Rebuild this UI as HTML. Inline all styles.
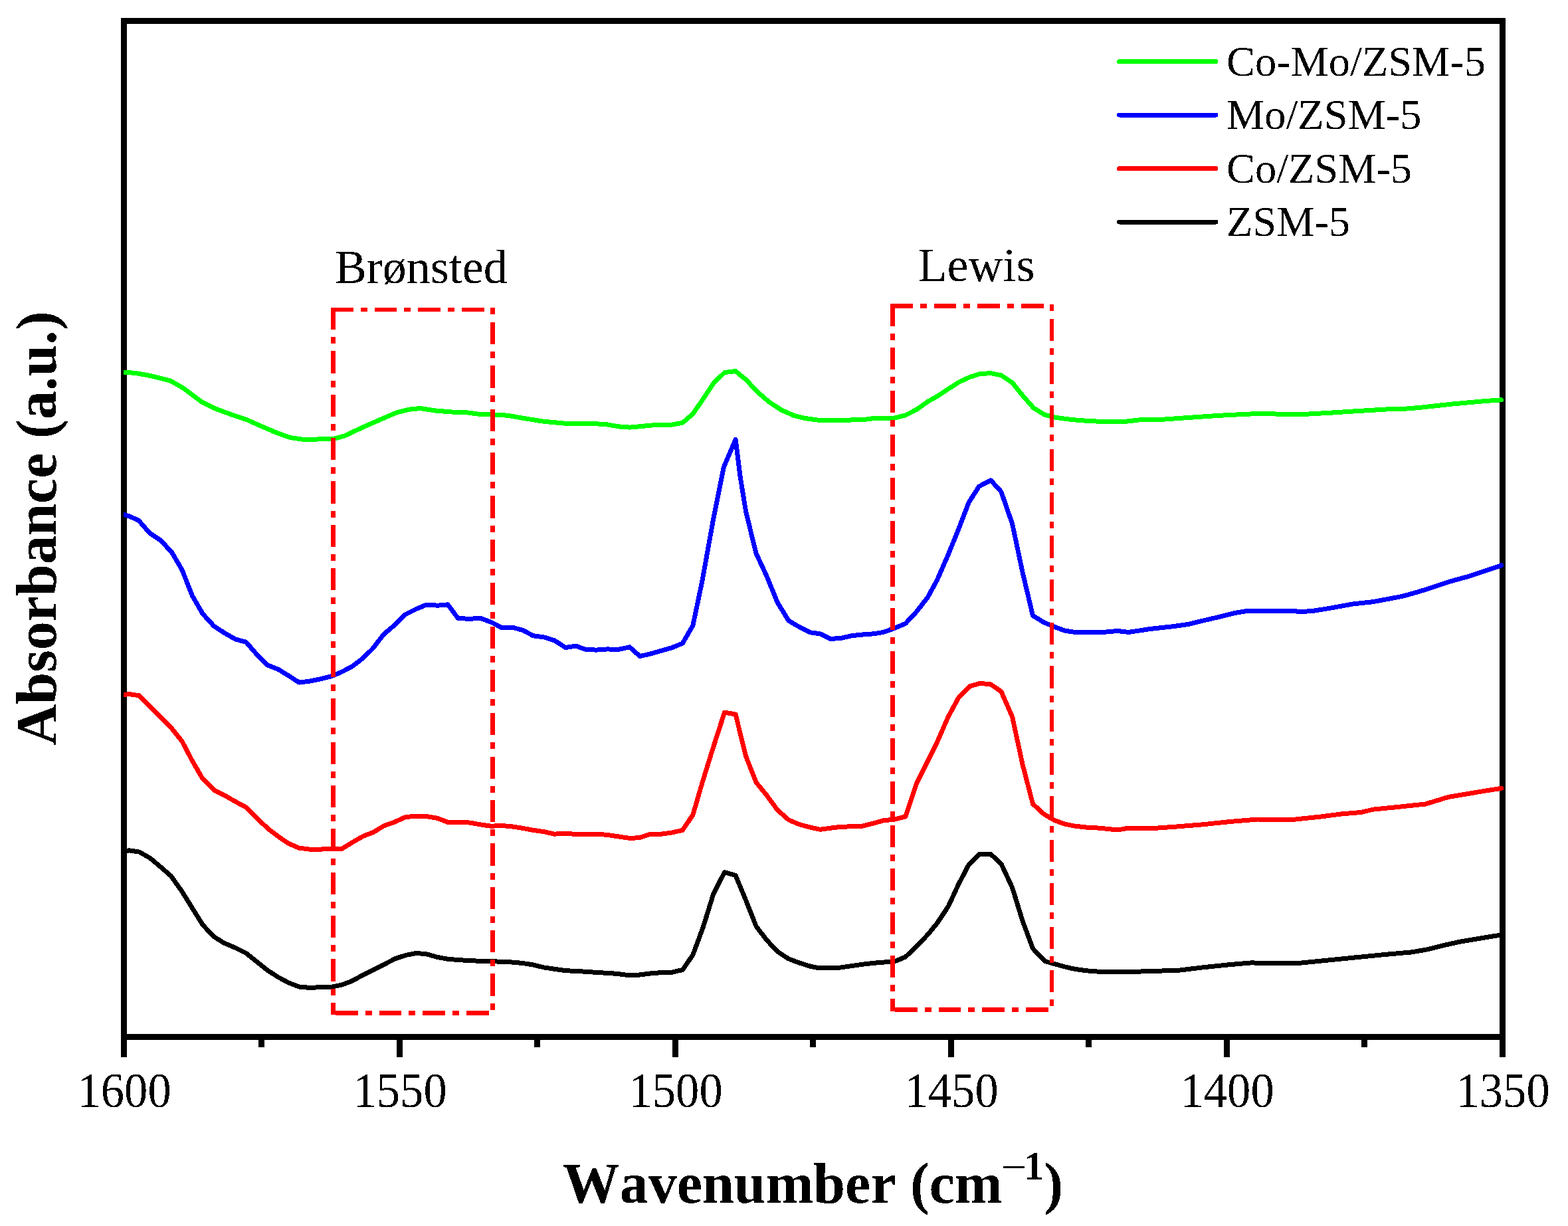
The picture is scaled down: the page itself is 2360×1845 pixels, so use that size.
<!DOCTYPE html>
<html lang="en">
<head>
<meta charset="utf-8">
<title>Py-IR spectra of ZSM-5 catalysts</title>
<style>
html,body{margin:0;padding:0;background:#fff;}
body{width:2360px;height:1845px;overflow:hidden;}
svg{display:block;}
text{font-family:"Liberation Serif",serif;fill:#000;font-kerning:none;filter:url(#bin);}
.b{font-weight:bold;}
.r{font-weight:normal;}
.curve{fill:none;stroke-width:7;stroke-linejoin:round;stroke-linecap:round;}
.frame rect{fill:#000;}
.box line{stroke:#f00;fill:none;}
</style>
</head>
<body>
<svg width="2360" height="1845" viewBox="0 0 2360 1845">
<defs><filter id="bin" x="-5%" y="-20%" width="110%" height="140%" color-interpolation-filters="sRGB"><feComponentTransfer><feFuncA type="discrete" tableValues="0 1"/></feComponentTransfer></filter><clipPath id="cp"><rect x="186" y="36" width="2080" height="1520"/></clipPath></defs>
<rect x="0" y="0" width="2360" height="1845" fill="#fff"/>
<g class="frame" shape-rendering="crispEdges">
<rect x="182" y="27" width="2084" height="9"/>
<rect x="182" y="1556" width="2084" height="9"/>
<rect x="182" y="27" width="9" height="1564"/>
<rect x="2257" y="27" width="9" height="1564"/>
<rect x="389" y="1560" width="9" height="16"/>
<rect x="597" y="1560" width="9" height="31"/>
<rect x="804" y="1560" width="9" height="16"/>
<rect x="1012" y="1560" width="9" height="31"/>
<rect x="1219" y="1560" width="9" height="16"/>
<rect x="1427" y="1560" width="9" height="31"/>
<rect x="1634" y="1560" width="9" height="16"/>
<rect x="1842" y="1560" width="9" height="31"/>
<rect x="2049" y="1560" width="9" height="16"/>
</g>
<g clip-path="url(#cp)" shape-rendering="crispEdges">
<polyline class="curve" points="186.0,1282.1 189.5,1281.0 194.3,1279.8 209.8,1282.1 226.4,1291.7 241.9,1304.8 257.4,1318.3 274.0,1341.7 289.5,1366.7 305.0,1391.7 321.7,1409.5 337.1,1419.0 353.8,1426.2 370.5,1434.5 386.0,1446.9 402.6,1460.2 418.1,1470.2 433.6,1478.6 450.2,1485.0 465.7,1486.4 482.4,1485.7 499.0,1485.2 514.5,1482.1 530.0,1476.2 546.7,1467.1 562.1,1459.5 577.6,1451.7 594.3,1442.9 611.0,1437.4 626.4,1434.5 641.9,1435.7 658.6,1440.5 674.0,1443.3 689.5,1444.5 700.0,1445.2 723.8,1446.4 739.3,1446.9 754.8,1447.1 771.4,1448.1 786.9,1449.5 802.4,1451.9 819.0,1456.0 834.5,1458.3 851.2,1460.7 866.7,1461.4 883.3,1462.4 900.0,1463.6 914.3,1464.3 929.8,1465.5 947.6,1467.9 961.9,1467.1 978.6,1465.0 995.2,1463.6 1011.9,1463.1 1027.4,1459.5 1042.9,1436.9 1058.3,1395.2 1073.8,1345.2 1090.5,1312.6 1107.1,1317.4 1122.6,1354.8 1138.1,1394.0 1153.6,1414.3 1170.2,1432.1 1186.9,1442.9 1202.4,1448.8 1220.0,1454.3 1230.7,1456.4 1249.8,1456.7 1265.2,1456.0 1281.9,1453.6 1298.6,1451.2 1315.2,1449.3 1329.5,1448.1 1346.2,1447.1 1362.9,1440.0 1379.5,1424.3 1396.2,1406.7 1410.5,1389.3 1427.1,1364.3 1442.6,1331.0 1458.1,1301.2 1474.8,1285.0 1491.4,1285.7 1506.9,1300.0 1523.6,1335.7 1539.0,1385.7 1554.5,1427.4 1572.4,1446.4 1586.7,1450.5 1602.1,1454.8 1617.6,1458.3 1634.3,1460.7 1655.7,1462.4 1681.9,1462.4 1698.6,1462.6 1720.0,1461.9 1740.0,1461.2 1772.1,1460.5 1809.2,1456.0 1851.3,1451.6 1883.4,1448.9 1913.1,1449.6 1955.1,1449.4 1987.3,1446.2 2036.7,1441.2 2086.2,1436.3 2125.7,1432.8 2148.0,1428.8 2172.7,1422.7 2197.4,1417.2 2234.5,1411.0 2259.6,1406.9" stroke="#000000"/>
<polyline class="curve" points="186.0,1045.7 194.3,1044.5 209.8,1046.9 225.2,1063.1 241.9,1079.0 258.6,1096.4 274.0,1115.5 289.5,1145.2 305.0,1171.9 322.9,1189.3 338.3,1197.1 353.8,1206.0 370.5,1215.0 386.0,1230.5 402.6,1246.4 418.1,1258.3 433.6,1269.0 450.2,1276.2 465.7,1278.1 482.4,1278.1 499.0,1277.4 514.5,1277.4 530.0,1267.9 546.7,1258.3 562.1,1252.4 577.6,1242.9 594.3,1236.9 611.0,1229.3 626.4,1228.6 641.9,1228.6 658.6,1231.4 674.0,1237.4 689.5,1237.6 700.0,1237.6 707.1,1238.1 723.8,1241.0 739.3,1243.3 754.8,1242.4 771.4,1244.0 786.9,1246.4 802.4,1249.3 819.0,1251.7 834.5,1255.2 850.0,1254.0 866.7,1255.5 883.3,1255.2 902.4,1255.5 914.3,1256.4 929.8,1258.8 947.6,1261.4 961.9,1260.7 978.6,1255.5 995.2,1255.2 1011.9,1252.9 1027.4,1249.3 1042.9,1226.2 1057.1,1177.4 1073.8,1123.8 1090.5,1072.1 1107.1,1075.0 1122.6,1138.1 1138.1,1177.4 1153.6,1196.4 1170.2,1219.0 1186.9,1233.8 1202.4,1240.5 1220.0,1245.2 1234.3,1248.3 1249.8,1246.2 1265.2,1244.3 1281.9,1243.8 1298.6,1243.1 1315.2,1238.8 1329.5,1234.8 1346.2,1233.1 1362.9,1228.8 1379.5,1178.8 1396.2,1145.5 1410.5,1116.9 1427.1,1078.8 1442.6,1050.2 1459.3,1032.9 1474.8,1028.3 1491.4,1030.0 1506.9,1040.7 1523.6,1078.8 1539.0,1150.2 1554.5,1209.8 1571.2,1225.2 1586.7,1234.3 1602.1,1240.0 1617.6,1243.1 1634.3,1245.0 1655.7,1246.2 1681.9,1249.0 1698.6,1246.2 1740.0,1246.2 1772.1,1243.9 1809.2,1240.9 1851.3,1236.5 1893.3,1233.0 1918.0,1233.5 1945.2,1233.5 1987.3,1229.1 2019.4,1224.9 2049.1,1222.4 2066.4,1218.2 2098.5,1215.0 2145.5,1210.0 2180.1,1199.4 2209.8,1194.5 2234.5,1190.2 2259.6,1186.4" stroke="#ff0000"/>
<polyline class="curve" points="186.0,774.3 194.3,776.7 208.6,783.1 225.2,802.1 241.9,813.3 258.6,831.2 274.0,857.6 289.5,896.7 305.0,923.6 321.7,941.9 337.1,952.1 353.8,961.7 370.5,966.4 386.0,984.3 402.6,1001.0 418.1,1006.9 433.6,1016.4 450.2,1027.1 465.7,1025.2 482.4,1021.9 499.0,1017.6 513.3,1011.7 530.0,1002.9 546.7,990.2 561.0,976.0 577.6,954.5 593.1,941.4 609.8,924.8 625.2,917.1 641.9,910.0 658.6,911.2 674.0,909.8 689.5,930.7 700.0,931.0 707.1,931.2 723.8,930.5 739.3,936.4 754.8,944.3 771.4,944.3 786.9,948.3 802.4,956.7 819.0,959.0 834.5,963.8 851.2,974.5 866.7,972.1 882.1,977.6 897.6,978.1 914.3,976.9 929.8,977.6 947.6,973.8 963.1,987.6 978.6,984.0 995.2,979.3 1011.9,974.5 1027.4,968.1 1042.9,941.2 1057.1,873.3 1073.8,780.5 1089.3,703.1 1107.1,661.4 1114.3,718.6 1122.6,769.8 1138.1,832.9 1153.6,866.2 1170.2,906.7 1186.9,934.0 1202.4,943.1 1220.0,951.9 1234.3,953.8 1249.8,961.4 1265.2,960.5 1281.9,956.7 1298.6,955.0 1315.2,953.8 1329.5,951.4 1346.2,945.5 1362.9,938.3 1379.5,920.5 1396.2,899.0 1410.5,872.9 1427.1,834.8 1442.6,796.7 1458.1,756.2 1473.6,731.9 1491.4,722.9 1506.9,740.0 1523.6,788.3 1539.0,861.0 1554.5,926.4 1571.2,936.7 1586.7,943.1 1602.1,949.0 1617.6,951.4 1634.3,951.4 1660.5,951.4 1681.9,949.5 1698.6,951.4 1715.2,949.0 1729.5,946.7 1740.0,945.5 1764.7,942.8 1789.5,939.3 1814.2,933.2 1838.9,927.5 1858.7,922.5 1876.0,919.6 1913.1,919.3 1942.7,919.3 1957.6,920.5 1974.9,919.6 1999.6,915.6 2036.7,908.9 2066.4,905.7 2110.9,897.3 2135.6,890.4 2160.3,882.5 2185.1,874.3 2209.8,867.6 2234.5,859.5 2259.6,850.8" stroke="#0000ff"/>
<polyline class="curve" points="186.0,560.2 203.8,561.4 227.6,565.7 256.2,572.9 275.2,583.6 303.8,605.0 322.9,614.5 346.7,623.3 370.5,631.2 394.3,641.9 418.1,651.9 437.1,658.6 453.8,661.0 477.6,661.0 501.4,660.5 518.1,656.2 544.3,643.8 572.9,631.2 596.7,621.0 615.7,616.2 632.4,614.5 656.2,618.1 680.0,620.0 700.0,620.5 723.8,623.6 754.8,624.3 771.4,626.4 788.1,629.5 819.0,634.3 852.4,637.4 900.0,637.9 914.3,639.0 931.0,641.9 947.6,643.1 961.9,641.9 978.6,640.2 995.2,639.0 1011.9,639.0 1027.4,636.2 1042.9,622.9 1059.5,598.6 1073.8,577.1 1090.5,560.5 1107.1,558.6 1122.6,571.2 1140.5,590.2 1157.1,604.5 1176.2,617.1 1195.2,625.5 1211.9,629.5 1220.0,630.7 1234.3,632.6 1267.6,632.4 1301.0,631.4 1315.2,629.5 1346.2,629.0 1362.9,624.8 1379.5,616.4 1396.2,604.5 1412.9,595.0 1427.1,585.5 1443.8,574.8 1460.5,567.1 1476.0,562.4 1491.4,561.7 1506.9,564.8 1523.6,576.0 1539.0,595.0 1555.7,614.0 1572.4,624.3 1589.0,628.3 1605.7,630.7 1624.8,632.6 1655.7,634.3 1693.8,634.3 1715.2,631.9 1740.0,631.9 1789.5,628.4 1838.9,625.1 1888.4,622.7 1908.1,622.2 1925.4,623.4 1962.5,623.4 1999.6,621.4 2036.7,619.0 2086.2,616.0 2110.9,615.5 2135.6,613.5 2185.1,608.1 2234.5,603.6 2259.6,601.8" stroke="#00ff00"/>
</g>
<g class="box" shape-rendering="crispEdges">
<line x1="498" y1="466" x2="738" y2="466" stroke-width="6" stroke-dasharray="33.8 11 10 10.87" stroke-dashoffset="0.00"/>
<rect x="738" y="463" width="7" height="10" fill="#f00" stroke="none"/>
<line x1="741.5" y1="480" x2="741.5" y2="1520" stroke-width="7" stroke-dasharray="33.2 11 10 11.16" stroke-dashoffset="60.36"/>
<line x1="505" y1="1524.5" x2="738" y2="1524.5" stroke-width="7" stroke-dasharray="33.8 11 10 10.87" stroke-dashoffset="0.00"/>
<line x1="501.5" y1="463" x2="501.5" y2="1527" stroke-width="7" stroke-dasharray="33.2 11 10 11.16" stroke-dashoffset="0.00"/>
</g>
<g class="box" shape-rendering="crispEdges">
<line x1="1340" y1="460.5" x2="1580" y2="460.5" stroke-width="7" stroke-dasharray="33.8 11 10 10.87" stroke-dashoffset="0.00"/>
<rect x="1580" y="458" width="6" height="10" fill="#f00" stroke="none"/>
<line x1="1583" y1="475" x2="1583" y2="1514" stroke-width="6" stroke-dasharray="33.2 11 10 11.16" stroke-dashoffset="60.86"/>
<line x1="1347" y1="1519.5" x2="1580" y2="1519.5" stroke-width="7" stroke-dasharray="33.8 11 10 10.87" stroke-dashoffset="0.00"/>
<line x1="1343.5" y1="457" x2="1343.5" y2="1522" stroke-width="7" stroke-dasharray="33.2 11 10 11.16" stroke-dashoffset="64.86"/>
</g>
<g class="legend" font-size="64.4" shape-rendering="crispEdges">
<line x1="1684.5" y1="92.5" x2="1830" y2="92.5" stroke="#00ff00" stroke-width="7" stroke-linecap="round"/>
<text x="1846" y="114">Co-Mo/ZSM-5</text>
<line x1="1684.5" y1="173" x2="1830" y2="173" stroke="#0000ff" stroke-width="7" stroke-linecap="round"/>
<text x="1846" y="194.3">Mo/ZSM-5</text>
<line x1="1684.5" y1="253.5" x2="1830" y2="253.5" stroke="#ff0000" stroke-width="7" stroke-linecap="round"/>
<text x="1846" y="274.6">Co/ZSM-5</text>
<line x1="1684.5" y1="334" x2="1830" y2="334" stroke="#000000" stroke-width="7" stroke-linecap="round"/>
<text x="1846" y="354.9">ZSM-5</text>
</g>
<g class="ticklabels" font-size="72" text-anchor="middle">
<text transform="translate(187.1,1665.7) scale(0.98,1.03)">1600</text>
<text transform="translate(602.1,1665.7) scale(0.98,1.03)">1550</text>
<text transform="translate(1017.1,1665.7) scale(0.98,1.03)">1500</text>
<text transform="translate(1432.1,1665.7) scale(0.98,1.03)">1450</text>
<text transform="translate(1847.1,1665.7) scale(0.98,1.03)">1400</text>
<text transform="translate(2262.1,1665.7) scale(0.98,1.03)">1350</text>
</g>
<text x="503.7" y="426" font-size="72">Brønsted</text>
<text x="1381.6" y="422.5" font-size="72">Lewis</text>
<text class="b" x="846.8" y="1809.8" font-size="86">Wavenumber (cm<tspan class="r" x="1506.6" y="1778.9" font-size="69">−</tspan><tspan x="1540.9" y="1775" font-size="61">1</tspan><tspan x="1571.5" y="1809.8">)</tspan></text>
<text class="b" transform="translate(84,1122) rotate(-90)" font-size="86.2">Absorbance (a.u.)</text>
</svg>
</body>
</html>
